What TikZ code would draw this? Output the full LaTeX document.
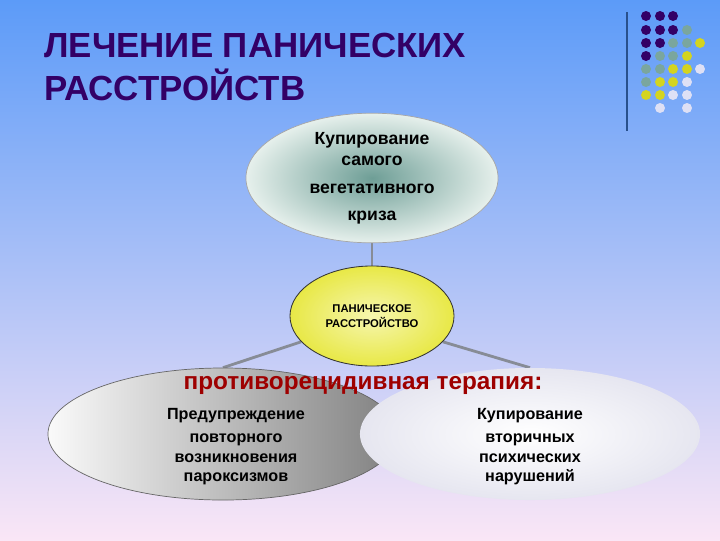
\documentclass[tikz,border=0pt]{standalone}
\usepackage{fontspec}
\setmainfont{Liberation Sans}
\usetikzlibrary{shapes.geometric}

\definecolor{fonverh}{RGB}{92,155,248}
\definecolor{fonsered}{RGB}{165,202,242}
\definecolor{fonniz}{RGB}{250,230,246}
\definecolor{zagolovok}{RGB}{51,0,102}
\definecolor{liniya}{RGB}{40,80,140}
\definecolor{svyazcvet}{RGB}{135,140,150}
\definecolor{krasny}{RGB}{158,0,0}
\definecolor{tfiolet}{RGB}{51,0,102}
\definecolor{tbiruza}{RGB}{122,166,158}
\definecolor{tzhelt}{RGB}{212,212,32}
\definecolor{tlavand}{RGB}{222,224,245}

\pgfdeclarelayer{fon}
\pgfdeclarelayer{linii}
\pgfsetlayers{fon,linii,main}

\tikzset{
	oval/.style={ellipse, inner sep=0pt, align=center, font=\bfseries\fontsize{12.5}{15}\selectfont},
	svyaz/.style={draw=svyazcvet, line width=2pt},
	podpis/.style={align=center, font=\bfseries\fontsize{11.5}{14}\selectfont}
}

\begin{document}
\begin{tikzpicture}[x=0.025cm, y=-0.025cm]
		\useasboundingbox ( 0, 0 ) rectangle ( 720, 540 );

		% фон
		\begin{pgfonlayer}{fon}
			\shade [top color=fonverh, middle color=fonsered, bottom color=fonniz] ( 0, 0 ) rectangle ( 720, 540 );
		\end{pgfonlayer}

		% заголовок
		\node (title) [anchor=north west, inner sep=0pt, align=left, text=zagolovok,
			font=\bfseries\fontsize{24.8}{30.6}\selectfont] at ( 44, 33 ) {ЛЕЧЕНИЕ ПАНИЧЕСКИХ\\РАССТРОЙСТВ};

		% украшение справа
		\draw [liniya, line width=1.4pt] ( 627, 12 ) -- ( 627, 131 );
		\foreach \x/\y/\c in {646/16/tfiolet, 660/16/tfiolet, 673/16/tfiolet,
				646/30/tfiolet, 660/30/tfiolet, 673/30/tfiolet, 687/30/tbiruza,
				646/43/tfiolet, 660/43/tfiolet, 673/43/tbiruza, 687/43/tbiruza, 700/43/tzhelt,
				646/56/tfiolet, 660/56/tbiruza, 673/56/tbiruza, 687/56/tzhelt,
				646/69/tbiruza, 660/69/tbiruza, 673/69/tzhelt, 687/69/tzhelt, 700/69/tlavand,
				646/82/tbiruza, 660/82/tzhelt, 673/82/tzhelt, 687/82/tlavand,
				646/95/tzhelt, 660/95/tzhelt, 673/95/tlavand, 687/95/tlavand,
				660/108/tlavand, 687/108/tlavand}
			\fill [\c] ( \x, \y ) circle ( 0.125cm );

		% эллипсы
		\node (top) [oval, minimum width=6.3cm, minimum height=3.05cm, draw=gray!70, line width=0.5pt,
			inner color={rgb,255:red,110;green,158;blue,150}, outer color={rgb,255:red,230;green,240;blue,236}]
			at ( 372, 178 ) {Купирование\\самого\\[5pt]вегетативного\\[4pt]криза};
		\node (mid) [oval, minimum width=4.1cm, minimum height=2.5cm, draw=black!80, line width=0.6pt,
			inner color={rgb,255:red,246;green,246;blue,175}, outer color={rgb,255:red,232;green,232;blue,70},
			font=\bfseries\fontsize{8}{10.5}\selectfont]
			at ( 372, 316 ) {ПАНИЧЕСКОЕ\\РАССТРОЙСТВО};
		\node (left) [oval, minimum width=8.75cm, minimum height=3.3cm, draw=gray!80!black, line width=0.5pt,
			left color=white!96!gray, right color={rgb,255:red,128;green,128;blue,128}] at ( 223, 434 ) {};
		\node (right) [oval, minimum width=8.5cm, minimum height=3.3cm,
			inner color=white, outer color={rgb,255:red,230;green,230;blue,240}] at ( 530, 434 ) {};

		% связи
		\begin{pgfonlayer}{linii}
			\draw [svyaz] (top.south) -- (mid.north);
			\draw [svyaz] (mid.200) -- (left.north);
			\draw [svyaz] (mid.-20) -- (right.north);
		\end{pgfonlayer}

		% подписи
		\node (terapiya) [text=krasny, font=\bfseries\fontsize{17.3}{20}\selectfont] at ( 363, 385 ) {противорецидивная терапия:};
		\node (lefttext) [podpis] at ( 236, 447 ) {Предупреждение\\[2pt]повторного\\возникновения\\пароксизмов};
		\node (righttext) [podpis] at ( 530, 447 ) {Купирование\\[2pt]вторичных\\психических\\нарушений};
	\end{tikzpicture}
\end{document}
